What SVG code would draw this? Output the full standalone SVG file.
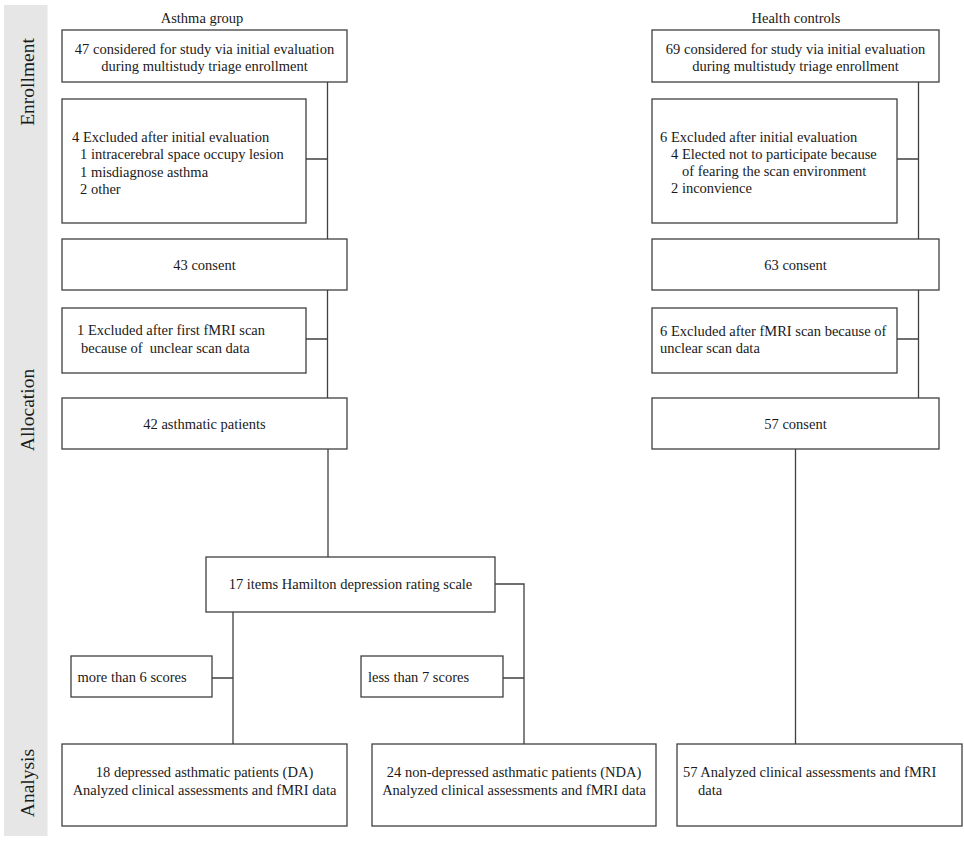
<svg xmlns="http://www.w3.org/2000/svg" width="964" height="841" viewBox="0 0 964 841">
<style>
.bg{fill:#ffffff}
.band{fill:#e6e6e6}
.box{fill:#ffffff;stroke:#404040;stroke-width:1.3}
.ln{fill:none;stroke:#404040;stroke-width:1.3}
text{font-family:"Liberation Serif","Times New Roman",serif;font-size:14.5px;fill:#1a1a1a;white-space:pre}
.c{text-anchor:middle}
.side{font-size:19.5px;text-anchor:middle}
</style>
<rect class="bg" x="0" y="0" width="964" height="841"/>
<g id="sidebar">
<rect class="band" x="4" y="5" width="43.5" height="831"/>
<text class="side" transform="translate(34,82) rotate(-90)">Enrollment</text>
<text class="side" transform="translate(34,410) rotate(-90)">Allocation</text>
<text class="side" transform="translate(34,783) rotate(-90)">Analysis</text>
</g>
<g id="headers">
<text class="c" x="202" y="23">Asthma group</text>
<text class="c" x="796" y="23">Health controls</text>
</g>
<g id="connectors">
<path class="ln" d="M327.5,82 V239 M306,159 H327.5 M327.5,290 V398 M306,339 H327.5 M328,449 V557"/>
<path class="ln" d="M233,612 V744 M212,678 H233"/>
<path class="ln" d="M495,584 H524 V744 M503,678 H524"/>
<path class="ln" d="M918.5,82 V239 M897,159 H918.5 M918.5,290 V398 M897,339 H918.5"/>
<path class="ln" d="M795.5,449 V744"/>
</g>
<g id="a_considered">
<rect class="box" x="62" y="30" width="285" height="52"/>
<text class="c" x="204.5" y="53.5">47 considered for study via initial evaluation</text>
<text class="c" x="204.5" y="70.5">during multistudy triage enrollment</text>
</g>
<g id="a_excluded1">
<rect class="box" x="62" y="99" width="244" height="124"/>
<text x="72" y="141.5">4 Excluded after initial evaluation</text>
<text x="80" y="159">1 intracerebral space occupy lesion</text>
<text x="80" y="176.5">1 misdiagnose asthma</text>
<text x="80" y="194">2 other</text>
</g>
<g id="a_consent">
<rect class="box" x="62" y="239" width="285" height="51"/>
<text class="c" x="204.5" y="269.5">43 consent</text>
</g>
<g id="a_excluded2">
<rect class="box" x="62" y="308" width="244" height="65"/>
<text x="77" y="335">1 Excluded after first fMRI scan</text>
<text x="81" y="352.5">because of  unclear scan data</text>
</g>
<g id="a_patients">
<rect class="box" x="62" y="398" width="285" height="51"/>
<text class="c" x="204.5" y="428.5">42 asthmatic patients</text>
</g>
<g id="h_considered">
<rect class="box" x="652" y="30" width="287" height="52"/>
<text class="c" x="795.5" y="53.5">69 considered for study via initial evaluation</text>
<text class="c" x="795.5" y="70.5">during multistudy triage enrollment</text>
</g>
<g id="h_excluded1">
<rect class="box" x="652" y="99" width="245" height="124"/>
<text x="660" y="141.5">6 Excluded after initial evaluation</text>
<text x="671" y="158.5">4 Elected not to participate because</text>
<text x="682" y="175.5">of fearing the scan environment</text>
<text x="671" y="193">2 inconvience</text>
</g>
<g id="h_consent">
<rect class="box" x="652" y="239" width="287" height="51"/>
<text class="c" x="795.5" y="269.5">63 consent</text>
</g>
<g id="h_excluded2">
<rect class="box" x="652" y="308" width="245" height="65"/>
<text x="660" y="335.5">6 Excluded after fMRI scan because of</text>
<text x="660" y="352.5">unclear scan data</text>
</g>
<g id="h_consent2">
<rect class="box" x="652" y="398" width="287" height="51"/>
<text class="c" x="795.5" y="428.5">57 consent</text>
</g>
<g id="hamilton">
<rect class="box" x="206" y="557" width="289" height="55"/>
<text class="c" x="350.5" y="589">17 items Hamilton depression rating scale</text>
</g>
<g id="more6">
<rect class="box" x="71" y="656" width="141" height="41"/>
<text x="77.5" y="681.5">more than 6 scores</text>
</g>
<g id="less7">
<rect class="box" x="361" y="656" width="142" height="41"/>
<text x="368" y="681.5">less than 7 scores</text>
</g>
<g id="da">
<rect class="box" x="62" y="744" width="285" height="82"/>
<text class="c" x="204.5" y="777">18 depressed asthmatic patients (DA)</text>
<text class="c" x="204.5" y="795">Analyzed clinical assessments and fMRI data</text>
</g>
<g id="nda">
<rect class="box" x="372" y="744" width="284" height="82"/>
<text class="c" x="514" y="777">24 non-depressed asthmatic patients (NDA)</text>
<text class="c" x="514" y="795">Analyzed clinical assessments and fMRI data</text>
</g>
<g id="h_analyzed">
<rect class="box" x="677" y="744" width="285" height="82"/>
<text x="683" y="777">57 Analyzed clinical assessments and fMRI</text>
<text x="698" y="795">data</text>
</g>
</svg>
